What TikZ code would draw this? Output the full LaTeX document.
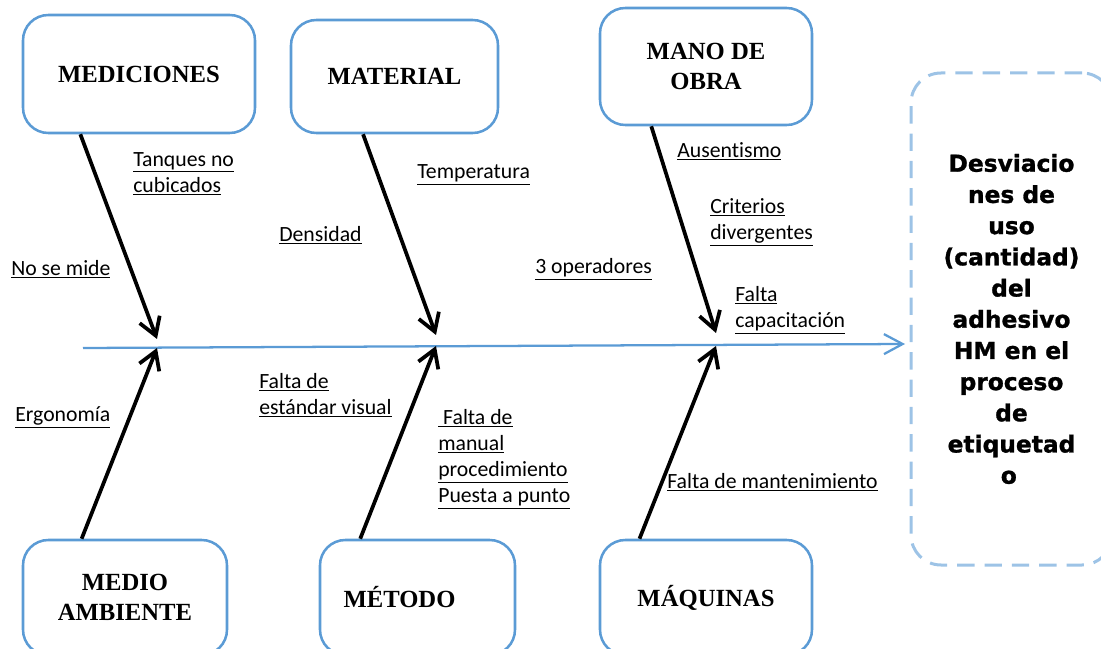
\documentclass[tikz,border=0pt]{standalone}
\usepackage{fontspec}
\setmainfont{Liberation Serif}
\newfontfamily\calfont[Ligatures=NoCommon]{Carlito}
\newfontfamily\dvfont[BoldFont={DejaVu Sans Bold}, BoldFeatures={FakeBold=1.2}]{DejaVu Sans}
\usepackage{tikz}
\usetikzlibrary{positioning}
\usetikzlibrary{arrows.meta}
\usetikzlibrary{calc}
\definecolor{boxblue}{HTML}{5B9BD5}
\definecolor{dashblue}{HTML}{9DC3E6}
\newcommand{\lbl}[1]{\underline{#1}}
\tikzstyle{coord} = [coordinate]
\tikzstyle{category} = [draw=boxblue, line width=1.9pt, rounded corners=19pt, align=center, font=\bfseries\fontsize{18.5pt}{22pt}\selectfont]
\tikzstyle{cause} = [anchor=west, align=left, inner sep=0pt, font=\calfont\fontsize{16.3pt}{19.5pt}\selectfont]
\tikzstyle{bone} = [line width=2.8pt, -{Straight Barb[length=13pt,width=16pt]}]
\tikzstyle{spine} = [draw=boxblue, line width=1.7pt, -{Straight Barb[length=14pt,width=15pt]}]

\begin{document}
\begin{tikzpicture}[x=0.75pt, y=-0.75pt]

    \useasboundingbox (0,0) rectangle (1101,649);
    \clip (0,0) rectangle (1101,649);

    % categories, top row
    \node[category, minimum width=174pt, minimum height=88.5pt] (medic) at (139,74) {MEDICIONES};
    \node[category, minimum width=155.25pt, minimum height=84.75pt] (mater) at (394.5,76.5) {MATERIAL};
    \node[category, minimum width=159pt, minimum height=87.75pt] (mano) at (706,66.5) {MANO DE\\OBRA};

    % categories, bottom row
    \node[category, minimum width=153pt, minimum height=86.25pt] (medio) at (125,597.5) {MEDIO\\AMBIENTE};
    \node[category, minimum width=146.25pt, minimum height=86.25pt] (metodo) at (417.5,597.5) {M\'ETODO\hspace*{27pt}};
    \node[category, minimum width=159pt, minimum height=86.25pt] (maqui) at (706,597.5) {M\'AQUINAS};

    % effect
    \node[draw=dashblue, line width=2.25pt, dash pattern=on 13pt off 7.5pt, rounded corners=22.5pt,
          minimum width=150.75pt, minimum height=369pt, align=center,
          font=\dvfont\bfseries\fontsize{17.5pt}{23.4pt}\selectfont] (efecto) at (1011.5,319)
          {Desviacio\\nes de\\uso\\(cantidad)\\del\\adhesivo\\HM en el\\proceso\\de\\etiquetad\\o\hspace*{4pt}};

    % spine
    \coordinate (tail) at (83,348);
    \coordinate (head) at (905,344);
    \draw[spine] (tail) -- (head);

    % joints on the spine
    \coordinate (j1) at (157,339);
    \coordinate (j2) at (436,335);
    \coordinate (j3) at (716,333);
    \coordinate (k1) at (157,348);
    \coordinate (k2) at (436,346);
    \coordinate (k3) at (716,346);

    % bones
    \draw[bone] ($(medic.south west)!0.25!(medic.south east)$) -- (j1);
    \draw[bone] ($(mater.south west)!0.35!(mater.south east)$) -- (j2);
    \draw[bone] ($(mano.south west)!0.245!(mano.south east)$) -- (j3);
    \draw[bone] ($(medio.north west)!0.29!(medio.north east)$) -- (k1);
    \draw[bone] ($(metodo.north west)!0.21!(metodo.north east)$) -- (k2);
    \draw[bone] ($(maqui.north west)!0.19!(maqui.north east)$) -- (k3);

    % causes
    \node[cause] (tanq) at (133,173.5) {\lbl{Tanques no}\\\lbl{cubicados}};
    \node[cause] (temp) at (417,175) {\lbl{Temperatura}};
    \node[cause] (dens) at (279,235) {\lbl{Densidad}};
    \node[cause] (nomide) at (11,269) {\lbl{No se mide}};
    \node[cause] (oper) at (535,269) {\lbl{3 operadores}};
    \node[cause] (ausen) at (677,151) {\lbl{Ausentismo}};
    \node[cause] (crit) at (710,222) {\lbl{Criterios}\\\lbl{divergentes}};
    \node[cause] (capac) at (735,310) {\lbl{Falta}\\\lbl{capacitaci\'on}};
    \node[cause] (ergo) at (15,417) {\lbl{Ergonom\'ia}};
    \node[cause] (estand) at (259,395) {\lbl{Falta de}\\\lbl{est\'andar visual}};
    \node[cause] (manual) at (438,459) {\lbl{\ Falta de}\\\lbl{manual}\\\lbl{procedimiento}\\\lbl{Puesta a punto}};
    \node[cause] (mant) at (667,482) {\lbl{Falta de mantenimiento}};

\end{tikzpicture}
\end{document}
